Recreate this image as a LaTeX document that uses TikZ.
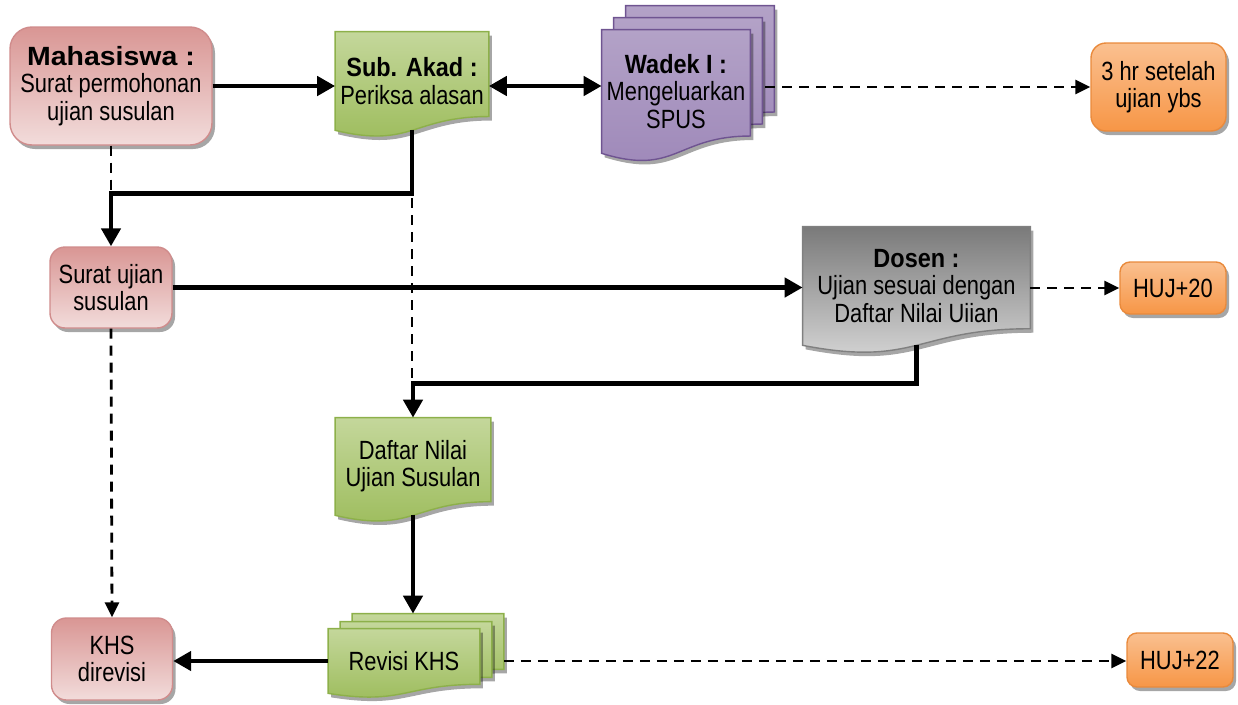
\documentclass[tikz,border=0pt]{standalone}
\usepackage{fontspec}
\setmainfont[FakeStretch=0.83]{Liberation Sans}
\newfontfamily\mhsfont[FakeStretch=1.08]{Liberation Sans}
\newfontfamily\judulfont[FakeStretch=0.89]{Liberation Sans}
\usetikzlibrary{positioning}
\usetikzlibrary{calc}
\usetikzlibrary{arrows.meta}
\usetikzlibrary{shadows}
\usetikzlibrary{backgrounds}

\definecolor{pinkdalam}{HTML}{F2DCDB}
\definecolor{pinkluar}{HTML}{D99694}
\definecolor{pinkgaris}{HTML}{D08C8C}
\definecolor{hijauatas}{HTML}{C4D79B}
\definecolor{hijaubawah}{HTML}{9BBB59}
\definecolor{hijaugaris}{HTML}{8DB04A}
\definecolor{unguatas}{HTML}{B3A2C7}
\definecolor{ungutengah}{HTML}{7D5FA3}
\definecolor{ungugaris}{HTML}{6F5491}
\definecolor{abuterang}{HTML}{DADADA}
\definecolor{abugelap}{HTML}{7A7A7A}
\definecolor{abugaris}{HTML}{808080}
\definecolor{oranyeatas}{HTML}{FAC090}
\definecolor{oranyebawah}{HTML}{F79646}
\definecolor{oranyegaris}{HTML}{E98A3C}

\newcommand{\judul}[1]{{\judulfont\fontsize{15}{17}\selectfont\bfseries #1}}
\newcommand{\judulmhs}[1]{{\mhsfont\fontsize{15}{17}\selectfont\bfseries #1}}
% document outline (wavy bottom) behind a node
\newcommand{\docshape}[3]{%
\begin{scope}[transform canvas={shift={#3}}]
\path[#2] (#1.north west) -- (#1.north east) -- ($(#1.north east)!0.86!(#1.south east)$)
  .. controls ($(#1.north)!0.86!(#1.south)$) and ($(#1.north)!1.186!(#1.south)$) .. (#1.south west) -- cycle;
\end{scope}}

\begin{document}
\begin{tikzpicture}[
bayang/.style={drop shadow={shadow xshift=0.06cm, shadow yshift=-0.08cm, opacity=0.35, fill=black}},
pinknode/.style={rectangle, rounded corners=0.3cm, draw=pinkgaris, line width=0.8pt,
top color=pinkluar, bottom color=pinkdalam, align=center, inner sep=0pt,
font=\fontsize{15}{15.5}\selectfont, bayang},
waktunode/.style={rectangle, rounded corners=0.3cm, draw=oranyegaris, line width=0.8pt,
top color=oranyeatas, bottom color=oranyebawah, align=center, inner sep=0pt,
font=\fontsize{15}{15.5}\selectfont, bayang},
docnode/.style={rectangle, inner sep=0pt, align=center, font=\fontsize{15}{15.5}\selectfont},
hijaudok/.style={top color=hijauatas, bottom color=hijaubawah, draw=hijaugaris, line width=0.8pt, bayang},
ungudok/.style={top color=unguatas, middle color=ungutengah, bottom color=unguatas!60!ungutengah, draw=ungugaris, line width=0.8pt, bayang},
abudok/.style={top color=abugelap, bottom color=abuterang, draw=abugaris, line width=0.8pt, bayang},
tebal/.style={line width=2.8pt, -{Triangle[length=0.36cm, width=0.38cm]}},
putus/.style={line width=1.6pt, dash pattern=on 0.2cm off 0.14cm, -{Triangle[length=0.3cm, width=0.28cm]}}
]
\useasboundingbox (0,0) rectangle (24.76,-14.08);

%Nodes
\node[pinknode, minimum width=4.04cm, minimum height=2.36cm, rounded corners=0.44cm] (mhs) at (2.22,-1.72) {\judulmhs{Mahasiswa :}\\Surat permohonan\\ujian susulan};
\node[docnode, minimum width=3.06cm, minimum height=1.96cm] (subakad) at (8.24,-1.62) {\judul{Sub. Akad :}\\Periksa alasan};
\node[docnode, minimum width=2.96cm, minimum height=2.46cm] (wadek) at (13.52,-1.83) {\judul{Wadek I :}\\Mengeluarkan\\SPUS};
\node[waktunode, minimum width=2.7cm, minimum height=1.76cm] (tigahr) at (23.17,-1.74) {3 hr setelah\\ujian ybs};
\node[pinknode, minimum width=2.44cm, minimum height=1.62cm] (surat) at (2.22,-5.75) {Surat ujian\\susulan};
\node[docnode, minimum width=4.54cm, minimum height=2.36cm] (dosen) at (18.33,-5.72) {\judul{Dosen :}\\Ujian sesuai dengan\\Daftar Nilai Uiian};
\node[waktunode, minimum width=2.12cm, minimum height=1.04cm, rounded corners=0.2cm] (huj20) at (23.46,-5.76) {HUJ+20};
\node[docnode, minimum width=3.1cm, minimum height=1.94cm] (daftar) at (8.26,-9.33) {Daftar Nilai\\Ujian Susulan};
\node[docnode, minimum width=3.02cm, minimum height=1.28cm] (revisi) at (8.08,-13.22) {Revisi KHS};
\node[pinknode, minimum width=2.42cm, minimum height=1.64cm] (khs) at (2.24,-13.18) {KHS\\direvisi};
\node[waktunode, minimum width=2.12cm, minimum height=1.08cm, rounded corners=0.2cm] (huj22) at (23.6,-13.2) {HUJ+22};

%Shapes
\begin{scope}[on background layer]
\docshape{subakad}{hijaudok}{(0,0)}
\docshape{wadek}{ungudok}{(0.48,0.48)}
\docshape{wadek}{ungudok}{(0.24,0.24)}
\docshape{wadek}{ungudok}{(0,0)}
\docshape{dosen}{abudok}{(0,0)}
\docshape{daftar}{hijaudok}{(0,0)}
\docshape{revisi}{hijaudok}{(0.48,0.3)}
\docshape{revisi}{hijaudok}{(0.24,0.14)}
\docshape{revisi}{hijaudok}{(0,0)}
\end{scope}

%Coordinates
\coordinate (wadekkanan) at ([xshift=0.3cm]wadek.east);
\coordinate (revisitop) at ([yshift=0.3cm]revisi.north);
\coordinate (revisikanan) at ([xshift=0.48cm]revisi.east);

%Lines
\draw[putus, -] (mhs.south) -- (surat.north);
\draw[putus, -] (subakad.south) -- (subakad.south |- daftar.north);
\draw[putus] (surat.south) -- (khs.north);
\draw[putus] (wadekkanan |- tigahr.west) -- (tigahr.west);
\draw[putus] (huj20.west -| dosen.east) -- (huj20.west);
\draw[putus] (revisikanan) -- (revisikanan -| huj22.west);

\draw[tebal] (mhs.east) -- (mhs.east -| subakad.west);
\draw[tebal, {Triangle[length=0.36cm, width=0.38cm]}-{Triangle[length=0.36cm, width=0.38cm]}] (mhs.east -| subakad.east) -- (mhs.east -| wadek.west);
\draw[tebal] (subakad.south) -- ++(0,-1.26) -| (surat.north);
\draw[tebal] (surat.east) -- (surat.east -| dosen.west);
\draw[tebal] (dosen.south) -- ++(0,-0.76) -| (daftar.north);
\draw[tebal] (daftar.south) -- (daftar.south |- revisitop);
\draw[tebal] (revisi.west) -- (revisi.west -| khs.east);

\end{tikzpicture}
\end{document}
